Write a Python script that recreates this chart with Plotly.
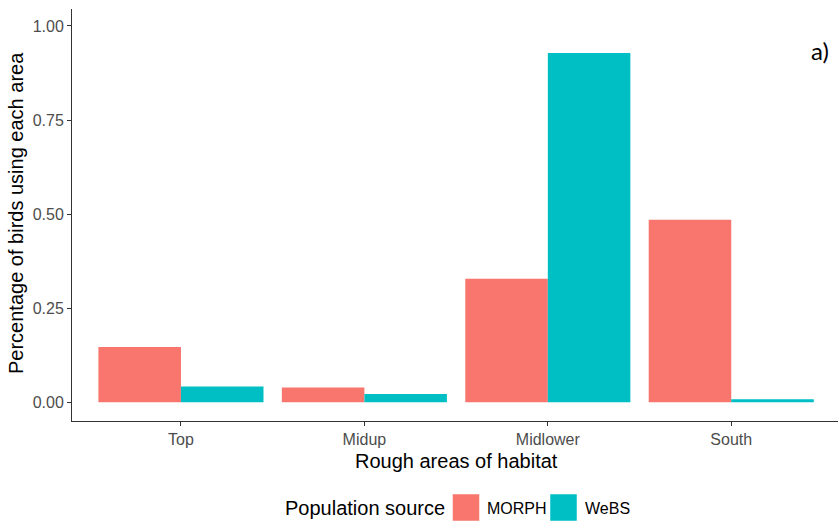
import plotly.graph_objects as go

categories = ["Top", "Midup", "Midlower", "South"]
morph = [0.147, 0.039, 0.328, 0.485]
webs = [0.042, 0.022, 0.928, 0.008]
series_names = ["MORPH", "WeBS"]
series_colors = ["#F8766D", "#00BFC4"]
y_ticks = [0.0, 0.25, 0.5, 0.75, 1.0]
y_tick_labels = ["0.00", "0.25", "0.50", "0.75", "1.00"]

FONT = "Liberation Sans, Arial, sans-serif"
AX = "#333333"
TXT = "#4d4d4d"

W, H = 838, 522
ML, MR, MT, MB = 72, 0, 9, 101
PW, PH = W - ML - MR, H - MT - MB


def px(x):
    return (x - ML) / PW


def py(y):
    return (H - MB - y) / PH


fig = go.Figure()
for name, vals, col in zip(series_names, [morph, webs], series_colors):
    fig.add_trace(go.Bar(x=categories, y=vals, name=name, showlegend=False,
                         marker=dict(color=col, line=dict(width=0))))

annotations = [
    dict(text="a)", x=px(831), y=py(51), xanchor="right", yanchor="middle",
         font=dict(size=24, family="Lato, Open Sans, sans-serif", color="black")),
    dict(text="Rough areas of habitat", x=px(456.5), y=py(461), xanchor="center", yanchor="middle",
         font=dict(size=20, color="black")),
    dict(text="Percentage of birds using each area", x=px(16), y=py(213), xanchor="center",
         yanchor="middle", textangle=-90, font=dict(size=20, color="black")),
    dict(text="Population source", x=px(283), y=py(508), xanchor="left", yanchor="middle",
         font=dict(size=20, color="black")),
]
shapes = []
legend_boxes = [(452.5, 479.5), (550, 577)]
legend_text_x = [485, 583]
for name, col, (x0, x1), tx in zip(series_names, series_colors, legend_boxes, legend_text_x):
    shapes.append(dict(type="rect", xref="paper", yref="paper", x0=px(x0), x1=px(x1),
                       y0=py(521), y1=py(494), fillcolor=col, line=dict(width=0.5, color="white")))
    annotations.append(dict(text=name, x=px(tx), y=py(508), xanchor="left", yanchor="middle",
                            font=dict(size=16, color="black")))
for a in annotations:
    a.update(xref="paper", yref="paper", showarrow=False)

fig.update_layout(
    width=W, height=H,
    margin=dict(l=ML, r=MR, t=MT, b=MB, autoexpand=False),
    plot_bgcolor="white", paper_bgcolor="white",
    barmode="group", bargap=0.1, bargroupgap=0,
    font=dict(family=FONT, color="black"),
    showlegend=False,
    xaxis=dict(range=[-0.594, 3.582], showline=True, linecolor=AX, linewidth=1,
               ticks="outside", ticklen=4, tickcolor=AX, tickwidth=1, automargin=False,
               tickfont=dict(size=16, color=TXT), showgrid=False, zeroline=False),
    yaxis=dict(range=[-0.0497, 1.045], showline=True, linecolor=AX, linewidth=1,
               ticks="outside", ticklen=4, tickcolor=AX, tickwidth=1, automargin=False,
               tickvals=y_ticks, ticktext=y_tick_labels,
               tickfont=dict(size=16, color=TXT), showgrid=False, zeroline=False),
    annotations=annotations,
    shapes=shapes,
)

fig.write_html("out.html", config={"displayModeBar": False},
               post_script="document.body.style.margin='0';document.body.style.overflow='hidden';")
